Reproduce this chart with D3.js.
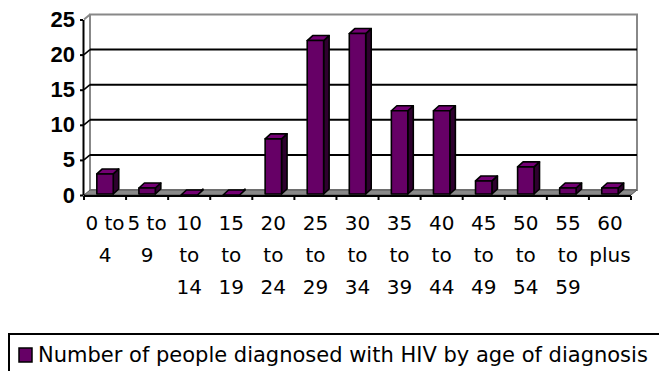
<!DOCTYPE html>
<html>
<head>
<meta charset="utf-8">
<script src="https://cdn.jsdelivr.net/npm/d3@7"></script>
<style>
  html, body { margin: 0; padding: 0; background: #fff; }
  svg { display: block; }
</style>
</head>
<body>
<svg id="chart" width="659" height="371"></svg>
<script>
// Age groups at diagnosis and number of people diagnosed in each
const categories = ["0 to 4", "5 to 9", "10 to 14", "15 to 19", "20 to 24", "25 to 29",
  "30 to 34", "35 to 39", "40 to 44", "45 to 49", "50 to 54", "55 to 59", "60 plus"];
const diagnosed = [3, 1, 0, 0, 8, 22, 23, 12, 12, 2, 4, 1, 1];
// Wrapped category labels as they appear under the axis
const tickLines = [["0 to", "4"], ["5 to", "9"], ["10", "to", "14"], ["15", "to", "19"],
  ["20", "to", "24"], ["25", "to", "29"], ["30", "to", "34"], ["35", "to", "39"],
  ["40", "to", "44"], ["45", "to", "49"], ["50", "to", "54"], ["55", "to", "59"], ["60", "plus"]];
const yTicks = [0, 5, 10, 15, 20, 25];
const seriesName = "Number of people diagnosed with HIV by age of diagnosis";

const svg = d3.select("#chart");

// Front plane of the 3-D plot and the depth offset to the back wall
const depth = { dx: 6, dy: -5 };
const x = d3.scaleBand().domain(categories).range([84, 631]);
const y = d3.scaleLinear().domain([0, 25]).range([195, 19.5]);
const xb = v => x(v) + depth.dx;
const yb = v => y(v) + depth.dy;

const colors = { front: "#660066", top: "#740074", side: "#2e002e", wall: "#888", floor: "#8a8a8a" };
const labelFont = "'DejaVu Sans', Tahoma, Verdana, sans-serif";

// Back wall
const x0 = x.range()[0], x1 = x.range()[1];
svg.append("rect")
  .attr("x", x0 + depth.dx).attr("y", yb(25))
  .attr("width", x1 - x0).attr("height", yb(0) - yb(25))
  .attr("fill", "#fff").attr("stroke", colors.wall).attr("stroke-width", 2);

// Left side wall edge at the top
svg.append("line")
  .attr("x1", x0).attr("y1", y(25)).attr("x2", x0 + depth.dx).attr("y2", yb(25))
  .attr("stroke", colors.wall).attr("stroke-width", 2);

// Horizontal gridlines on the back wall and side wall
const gridVals = yTicks.filter(v => v > 0 && v < 25);
svg.append("g").selectAll("line.grid").data(gridVals).join("line")
  .attr("x1", x0 + depth.dx).attr("x2", x1 + depth.dx)
  .attr("y1", d => yb(d)).attr("y2", d => yb(d))
  .attr("stroke", "#000").attr("stroke-width", 2);
svg.append("g").selectAll("line.sgrid").data(gridVals).join("line")
  .attr("x1", x0).attr("x2", x0 + depth.dx)
  .attr("y1", d => y(d)).attr("y2", d => yb(d))
  .attr("stroke", "#000").attr("stroke-width", 1.5);

// Floor
svg.append("path")
  .attr("d", `M${x0},${y(0)} L${x0 + depth.dx},${yb(0)} L${x1 + depth.dx},${yb(0)} L${x1},${y(0)} Z`)
  .attr("fill", colors.floor).attr("stroke", "#555").attr("stroke-width", 1);

// 3-D columns: front face, top face and right side face
const bw = x.bandwidth() * 0.39;
const bd = { dx: 5.5, dy: -5 };
const bars = svg.append("g").selectAll("g.bar")
  .data(categories.map((c, i) => ({ c, v: diagnosed[i] })))
  .join("g");

bars.each(function(d) {
  const g = d3.select(this);
  const left = x(d.c) + (x.bandwidth() - bw) / 2;
  const right = left + bw;
  const top = y(d.v), base = y(0) - 1;
  g.append("path")
    .attr("d", `M${right},${base} L${right + bd.dx},${base + bd.dy} L${right + bd.dx},${top + bd.dy} L${right},${top} Z`)
    .attr("fill", colors.side);
  g.append("path")
    .attr("d", `M${left},${top} L${left + bd.dx},${top + bd.dy} L${right + bd.dx},${top + bd.dy} L${right},${top} Z`)
    .attr("fill", colors.top);
  if (d.v > 0) {
    g.append("rect")
      .attr("x", left).attr("y", top).attr("width", bw).attr("height", base - top)
      .attr("fill", colors.front);
  }
  g.selectAll("path, rect")
    .attr("stroke", "#000").attr("stroke-width", 1.6).attr("stroke-linejoin", "round");
});

// Value axis
const yAxis = svg.append("g")
  .attr("transform", `translate(${x0 - 1},0)`)
  .call(d3.axisLeft(y).tickValues(yTicks).tickSize(3).tickSizeOuter(0).tickPadding(5));
yAxis.select(".domain").attr("stroke", "#000").attr("stroke-width", 2);
yAxis.selectAll(".tick line").attr("stroke", "#000").attr("stroke-width", 2);
yAxis.selectAll(".tick text")
  .attr("font-family", "'Liberation Sans', Arial, sans-serif")
  .attr("font-weight", "bold").attr("font-size", 22).attr("fill", "#000");

// Category axis: line, boundary ticks and wrapped labels
const axisY = y(0) + 1;
const xAxis = svg.append("g").attr("transform", `translate(0,${axisY})`);
xAxis.append("line").attr("x1", x0).attr("x2", x1).attr("stroke", "#000").attr("stroke-width", 2);
const bounds = categories.map(c => x(c)).concat([x1]);
xAxis.selectAll("line.tk").data(bounds).join("line")
  .attr("x1", d => d).attr("x2", d => d).attr("y1", 0).attr("y2", 4)
  .attr("stroke", "#000").attr("stroke-width", 2);
xAxis.selectAll("text.lbl").data(categories).join("text")
  .attr("x", d => x(d) + x.bandwidth() / 2)
  .attr("text-anchor", "middle")
  .attr("font-family", labelFont).attr("font-size", 20).attr("fill", "#000")
  .each(function(d, i) {
    d3.select(this).selectAll("tspan").data(tickLines[i]).join("tspan")
      .attr("x", x(d) + x.bandwidth() / 2)
      .attr("y", (t, j) => 34 + j * 32)
      .text(t => t);
  });

// Legend
const legend = svg.append("g");
legend.append("rect")
  .attr("x", 9).attr("y", 334).attr("width", 660).attr("height", 60)
  .attr("fill", "#fff").attr("stroke", "#000").attr("stroke-width", 2);
legend.append("rect")
  .attr("x", 19).attr("y", 348).attr("width", 13).attr("height", 14)
  .attr("fill", colors.front).attr("stroke", "#000").attr("stroke-width", 1.5);
legend.append("text")
  .attr("x", 38).attr("y", 362)
  .attr("font-family", labelFont).attr("font-size", 21).attr("fill", "#000")
  .text(seriesName);
</script>
</body>
</html>
